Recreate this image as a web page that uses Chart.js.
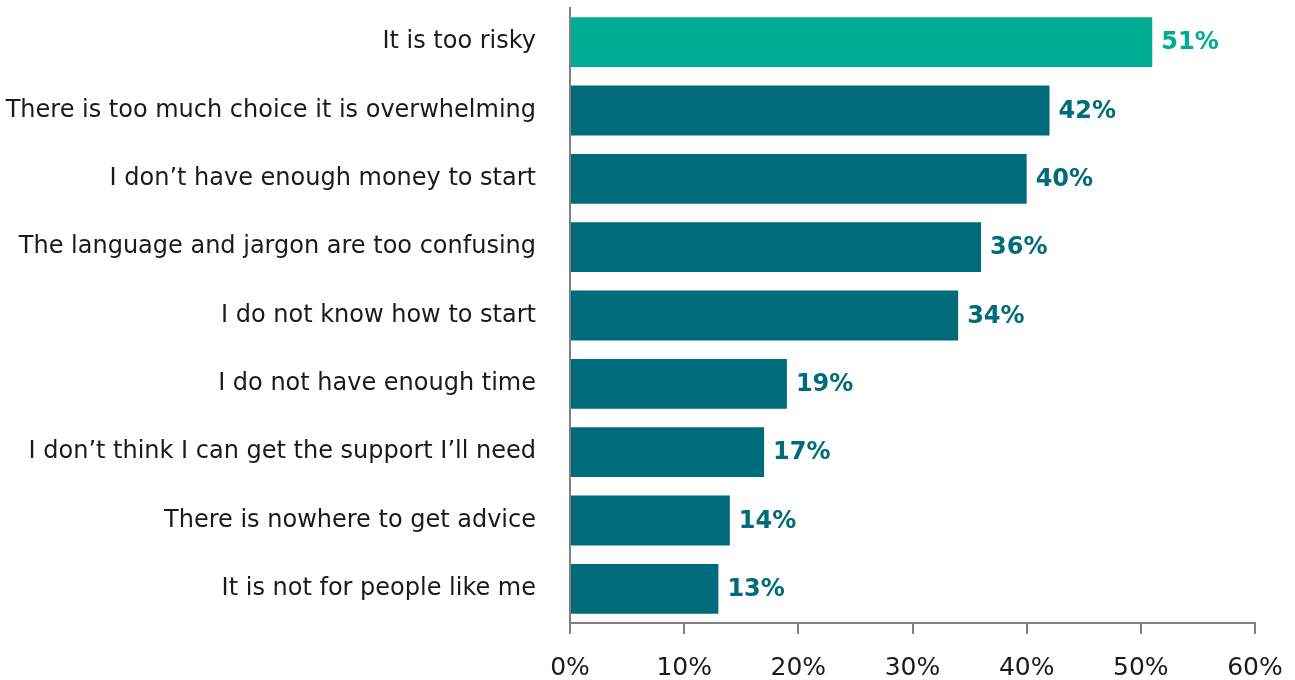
<!DOCTYPE html>
<html lang="en">
<head>
    <meta charset="UTF-8">
    <title>Barriers to investing</title>
    <script src="https://cdn.jsdelivr.net/npm/chart.js@4.4.1/dist/chart.umd.min.js"></script>
    <style>
        body {
            margin: 0;
            background: #ffffff;
        }
        .chart-box {
            width: 1295px;
            height: 680px;
            position: relative;
        }
    </style>
</head>
<body>

<div class="chart-box">
    <canvas id="reasonsChart"></canvas>
</div>

<script>
    // Survey data
    const reasons = [
        'It is too risky',
        'There is too much choice it is overwhelming',
        'I don\u2019t have enough money to start',
        'The language and jargon are too confusing',
        'I do not know how to start',
        'I do not have enough time',
        'I don\u2019t think I can get the support I\u2019ll need',
        'There is nowhere to get advice',
        'It is not for people like me'
    ];
    const shares = [51, 42, 40, 36, 34, 19, 17, 14, 13];
    const xTicks = [0, 10, 20, 30, 40, 50, 60];

    const GREEN = '#00ac93';
    const TEAL = '#006b7a';
    const FONT = '"DejaVu Sans", sans-serif';

    const barColors = shares.map((v, i) => i === 0 ? GREEN : TEAL);

    // Draw the value labels at the end of each bar
    const valueLabels = {
        id: 'valueLabels',
        afterDatasetsDraw(chart) {
            const ctx = chart.ctx;
            const meta = chart.getDatasetMeta(0);
            ctx.save();
            ctx.font = 'bold 24px ' + FONT;
            ctx.textAlign = 'left';
            ctx.textBaseline = 'middle';
            meta.data.forEach((bar, i) => {
                ctx.fillStyle = barColors[i];
                ctx.fillText(shares[i] + '%', bar.x + 9, bar.y + 1);
            });
            ctx.restore();
        }
    };

    const ctx = document.getElementById('reasonsChart').getContext('2d');
    new Chart(ctx, {
        type: 'bar',
        data: {
            labels: reasons,
            datasets: [{
                data: shares,
                backgroundColor: barColors,
                borderWidth: 0,
                barPercentage: 0.73,
                categoryPercentage: 1
            }]
        },
        options: {
            indexAxis: 'y',
            responsive: true,
            maintainAspectRatio: false,
            animation: false,
            layout: {
                padding: { top: 8, right: 40, bottom: 0, left: 0 }
            },
            plugins: {
                legend: { display: false },
                tooltip: { enabled: false }
            },
            scales: {
                x: {
                    min: 0,
                    max: 60,
                    afterBuildTicks(scale) {
                        scale.ticks = xTicks.map(v => ({ value: v }));
                    },
                    afterFit(scale) {
                        scale.height = 57;
                        scale.paddingLeft = 0;
                        scale.paddingRight = 0;
                    },
                    border: { display: true, color: '#808080', width: 2 },
                    grid: {
                        display: true,
                        drawOnChartArea: false,
                        drawTicks: true,
                        tickLength: 11,
                        color: '#808080',
                        lineWidth: 2
                    },
                    ticks: {
                        color: '#1a1a1a',
                        font: { family: FONT, size: 25 },
                        padding: 19,
                        maxRotation: 0,
                        callback: v => v + '%'
                    }
                },
                y: {
                    afterFit(scale) {
                        scale.width = 570;
                        scale.paddingTop = 0;
                        scale.paddingBottom = 0;
                    },
                    border: { display: true, color: '#808080', width: 2 },
                    grid: { display: false },
                    ticks: {
                        color: '#1a1a1a',
                        font: { family: FONT, size: 24 },
                        padding: 26,
                        autoSkip: false
                    }
                }
            }
        },
        plugins: [valueLabels]
    });
</script>

</body>
</html>
